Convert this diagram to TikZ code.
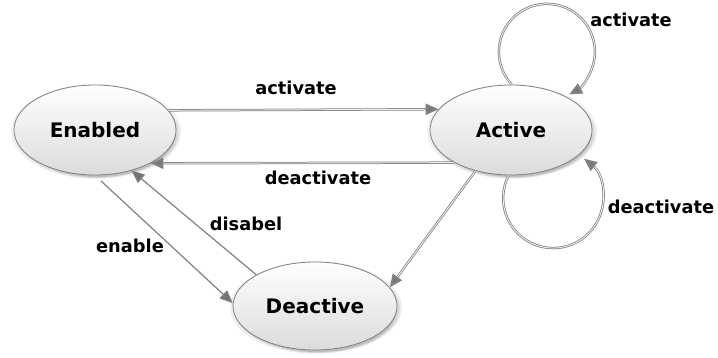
\documentclass[tikz,border=0pt]{standalone}
\usepackage{fontspec}
\setmainfont{DejaVu Sans}
\usetikzlibrary{shapes.geometric,arrows.meta,shadows}
\begin{document}
\begin{tikzpicture}[x=1pt,y=1pt,
  state/.style={ellipse, draw=black!50, line width=0.8pt, inner sep=0pt,
    top color=white, bottom color=gray!28,
    drop shadow={shadow xshift=1pt,shadow yshift=-1.5pt,opacity=.12,shadow scale=1.05},
    drop shadow={shadow xshift=2pt,shadow yshift=-2.5pt,opacity=.2,shadow scale=1.01},
    drop shadow={shadow xshift=2.5pt,shadow yshift=-3.5pt,opacity=.3,shadow scale=0.97},
    font=\fontsize{20}{24}\selectfont\bfseries},
  lbl/.style={font=\fontsize{17.8}{21}\selectfont\bfseries, inner sep=0pt},
  tip/.style={-{Triangle[length=13pt,width=11pt,fill=black!55]}},
  dbl/.style={tip, draw=black!50, line width=2.4pt,
    postaction={draw=gray!12, line width=0.9pt, -, shorten >=13pt}},
  sgl/.style={tip, draw=black!50, line width=1.2pt}]
\useasboundingbox (0,0) rectangle (718,-358);

% states
\node[state, minimum width=162pt, minimum height=90pt] (en) at (95,-130) {Enabled};
\node[state, minimum width=162pt, minimum height=90pt] (ac) at (511,-130) {Active};
\node[state, minimum width=164pt, minimum height=88pt] (de) at (315,-306) {Deactive};

% transitions between states
\draw[dbl] (en.15.4) -- (ac.164.6);
\draw[dbl] (ac.210.9) -- (en.329.1);
\draw[dbl] (ac.229) -- (de.14);
\draw[sgl, shorten <=8pt] (en.270) -- (de.178);
\draw[sgl] (de.152) -- (en.312);

% self loops on Active
\draw[dbl] (ac.89) arc[start angle=223, end angle=-62.4, radius=48pt];
\draw[dbl] (ac.267.5) arc[start angle=153, end angle=412, radius=50pt];

% labels
\node[lbl] (l1) at (296,-88) {activate};
\node[lbl] (l2) at (318,-178) {deactivate};
\node[lbl] (l3) at (246,-224) {disabel};
\node[lbl] (l4) at (130,-246) {enable};
\node[lbl] (l5) at (631,-20) {activate};
\node[lbl] (l6) at (661,-207) {deactivate};
\end{tikzpicture}
\end{document}
